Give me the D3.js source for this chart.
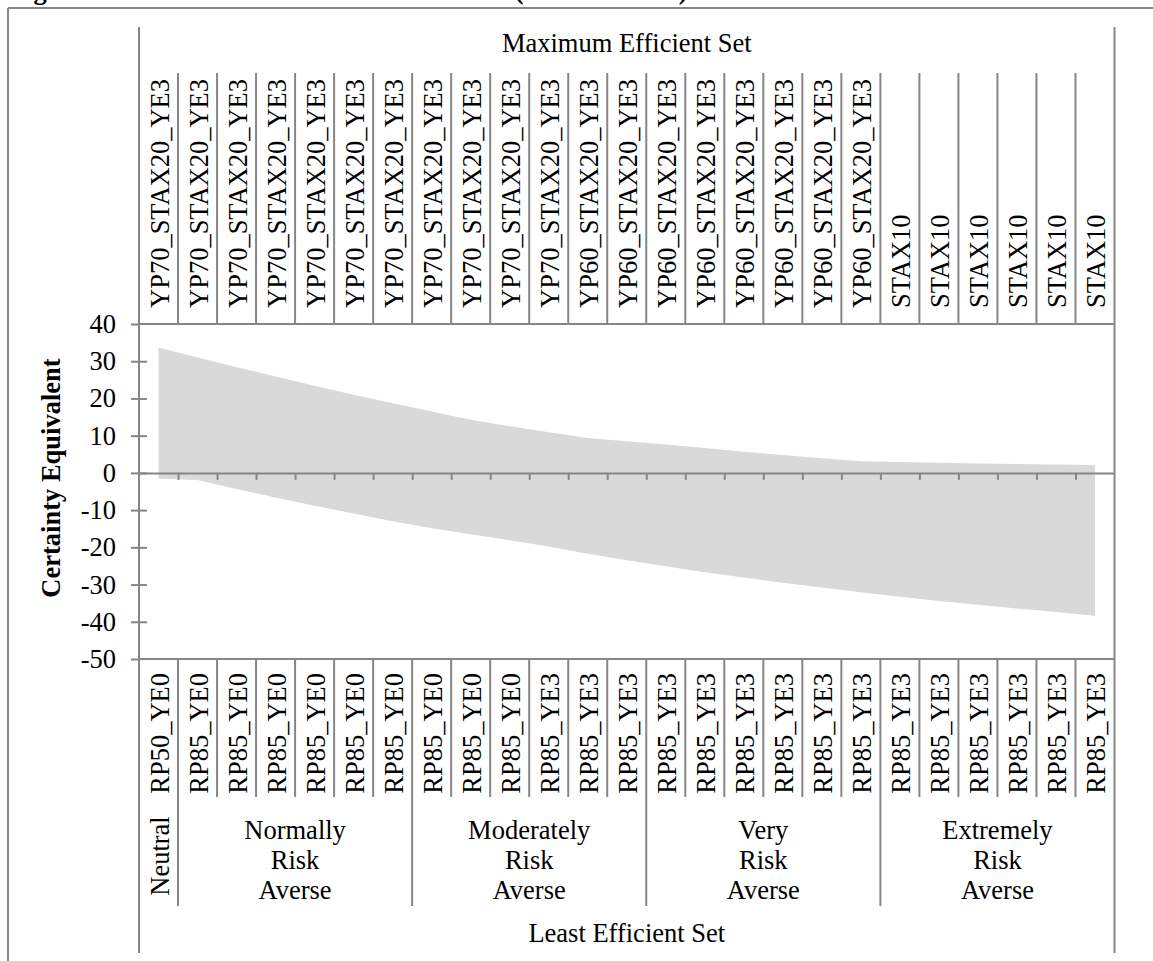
<!DOCTYPE html>
<html>
<head>
<meta charset="utf-8">
<script src="https://cdn.jsdelivr.net/npm/d3@7"></script>
<style>
  body { margin: 0; background: #fff; }
  svg { display: block; }
  text { font-family: "Liberation Serif", "Times New Roman", serif; fill: #000; }
</style>
</head>
<body>
<div id="chart"></div>
<script>
/*
  Certainty equivalent range, maximum vs least efficient set
*/

var figTitle = "Figure 5. CE of Models in MC Environment (500 Scenarios)",
    topTitle = "Maximum Efficient Set",
    bottomTitle = "Least Efficient Set",
    yLabel = "Certainty Equivalent";

// top (maximum efficient) category labels
var topLabels = [
  "YP70_STAX20_YE3", "YP70_STAX20_YE3", "YP70_STAX20_YE3", "YP70_STAX20_YE3",
  "YP70_STAX20_YE3", "YP70_STAX20_YE3", "YP70_STAX20_YE3", "YP70_STAX20_YE3",
  "YP70_STAX20_YE3", "YP70_STAX20_YE3", "YP70_STAX20_YE3",
  "YP60_STAX20_YE3", "YP60_STAX20_YE3", "YP60_STAX20_YE3", "YP60_STAX20_YE3",
  "YP60_STAX20_YE3", "YP60_STAX20_YE3", "YP60_STAX20_YE3", "YP60_STAX20_YE3",
  "STAX10", "STAX10", "STAX10", "STAX10", "STAX10", "STAX10"
];

// bottom (least efficient) category labels
var bottomLabels = [
  "RP50_YE0",
  "RP85_YE0", "RP85_YE0", "RP85_YE0", "RP85_YE0", "RP85_YE0", "RP85_YE0",
  "RP85_YE0", "RP85_YE0", "RP85_YE0", "RP85_YE3", "RP85_YE3", "RP85_YE3",
  "RP85_YE3", "RP85_YE3", "RP85_YE3", "RP85_YE3", "RP85_YE3", "RP85_YE3",
  "RP85_YE3", "RP85_YE3", "RP85_YE3", "RP85_YE3", "RP85_YE3", "RP85_YE3"
];

// risk aversion groups
var groupNames = [["Neutral"], ["Normally", "Risk", "Averse"], ["Moderately", "Risk", "Averse"],
                  ["Very", "Risk", "Averse"], ["Extremely", "Risk", "Averse"]];
var groupSizes = [1, 6, 6, 6, 6];

// upper and lower edge of the shaded band
var upperCE = [33.7, 31.0, 28.4, 25.9, 23.4, 21.0, 18.7, 16.5, 14.3, 12.5, 10.9, 9.4, 8.5,
               7.6, 6.7, 5.7, 4.8, 3.9, 3.1, 2.9, 2.7, 2.55, 2.4, 2.25, 2.1];
var lowerCE = [-1.5, -1.9, -4.3, -6.6, -8.8, -10.9, -13.0, -14.9, -16.5, -18.1, -19.8, -21.7, -23.5,
               -25.1, -26.7, -28.1, -29.5, -30.8, -32.1, -33.3, -34.4, -35.4, -36.4, -37.4, -38.4];

var yTicks = [40, 30, 20, 10, 0, -10, -20, -30, -40, -50];

var W = 1153, H = 961,
    plot = {left: 139, right: 1114.5, top: 324, bottom: 659},
    gray = "#868686",
    fs = 26.5,
    n = topLabels.length;

var svg = d3.select("#chart").append("svg")
    .attr("width", W)
    .attr("height", H);

var x = d3.scaleBand().domain(d3.range(n)).range([plot.left, plot.right]),
    xb = d3.scaleLinear().domain([0, n]).range([plot.left, plot.right]),
    y = d3.scaleLinear().domain([-50, 40]).range([plot.bottom, plot.top]);

function cx(i){ return x(i) + x.bandwidth() / 2; }

function vline(xp, y1, y2){
  svg.append("line")
    .attr("x1", xp).attr("x2", xp)
    .attr("y1", y1).attr("y2", y2)
    .attr("stroke", gray).attr("stroke-width", 2);
}
function hline(yp, x1, x2){
  svg.append("line")
    .attr("x1", x1).attr("x2", x2)
    .attr("y1", yp).attr("y2", yp)
    .attr("stroke", gray).attr("stroke-width", 2);
}

// outer frame (cropped at right and bottom)
hline(8, 8, W);
vline(8, 8, H);

// figure title, cut off at the top as in the page it came from
svg.append("text")
  .attr("x", 10).attr("y", -1)
  .style("font-size", fs + "px")
  .style("font-weight", "bold")
  .text(figTitle);

// shaded band
var area = d3.area()
  .x(function(d, i){ return cx(i); })
  .y0(function(d, i){ return y(lowerCE[i]); })
  .y1(function(d, i){ return y(upperCE[i]); });

svg.append("path")
  .datum(upperCE)
  .attr("fill", "#d9d9d9")
  .attr("d", area);

// plot border top / bottom
hline(y(40), plot.left, plot.right);
hline(y(-50), plot.left, plot.right);

// y axis with crossing ticks
var yAxis = svg.append("g")
  .attr("transform", "translate(" + plot.left + ",0)")
  .attr("color", gray)
  .call(d3.axisLeft(y).tickValues(yTicks).tickSize(8).tickPadding(15).tickSizeOuter(0)
        .tickFormat(function(d){ return String(d); }));
yAxis.select(".domain").remove();
yAxis.selectAll(".tick line").attr("x1", 8).attr("stroke-width", 2);
yAxis.selectAll(".tick line").filter(function(d){ return d === 40 || d === -50; }).attr("x1", 0);
yAxis.selectAll("text")
  .attr("fill", "#000")
  .style("font-family", "'Liberation Serif', 'Times New Roman', serif")
  .style("font-size", fs + "px");

// zero line with category boundary ticks
var xAxis = svg.append("g")
  .attr("transform", "translate(0," + y(0) + ")")
  .attr("color", gray)
  .call(d3.axisBottom(xb).tickValues(d3.range(1, n)).tickSize(7).tickSizeOuter(0).tickFormat(""));
xAxis.select(".domain").attr("stroke-width", 2);
xAxis.selectAll(".tick line").attr("stroke-width", 2);

// outer vertical lines
vline(plot.left, 27, 953);
vline(plot.right, 27, 953);

// category dividers, top and bottom
d3.range(1, n).forEach(function(k){
  vline(xb(k), 73, plot.top);
  vline(xb(k), plot.bottom, 797);
});

// group dividers
var cum = 0;
groupSizes.slice(0, -1).forEach(function(s){
  cum += s;
  vline(xb(cum), 797, 906);
});

// top labels
svg.selectAll(".topLabel")
  .data(topLabels)
  .enter().append("text")
    .attr("class", "topLabel")
    .attr("transform", function(d, i){ return "translate(" + (cx(i) + 10) + ",308) rotate(-90)"; })
    .style("font-size", fs + "px")
    .style("text-anchor", "start")
    .text(function(d){ return d; });

// bottom labels
svg.selectAll(".bottomLabel")
  .data(bottomLabels)
  .enter().append("text")
    .attr("class", "bottomLabel")
    .attr("transform", function(d, i){ return "translate(" + (cx(i) + 10) + ",673) rotate(-90)"; })
    .style("font-size", fs + "px")
    .style("text-anchor", "end")
    .text(function(d){ return d; });

// group labels
var start = 0;
groupNames.forEach(function(lines, g){
  var mid = xb(start + groupSizes[g] / 2);
  if (groupSizes[g] === 1) {
    svg.append("text")
      .attr("transform", "translate(" + (mid + 10) + ",856) rotate(-90)")
      .style("font-size", fs + "px")
      .style("text-anchor", "middle")
      .text(lines[0]);
  } else {
    lines.forEach(function(t, j){
      svg.append("text")
        .attr("x", mid)
        .attr("y", 839 + j * 30)
        .style("font-size", fs + "px")
        .style("text-anchor", "middle")
        .text(t);
    });
  }
  start += groupSizes[g];
});

// outer level titles
svg.append("text")
  .attr("x", (plot.left + plot.right) / 2)
  .attr("y", 52)
  .style("font-size", fs + "px")
  .style("text-anchor", "middle")
  .text(topTitle);

svg.append("text")
  .attr("x", (plot.left + plot.right) / 2)
  .attr("y", 942)
  .style("font-size", fs + "px")
  .style("text-anchor", "middle")
  .text(bottomTitle);

//Label for Y axis
svg.append("text")
  .attr("transform", "translate(60,478) rotate(-90)")
  .style("text-anchor", "middle")
  .style("font-size", fs + "px")
  .style("font-weight", "bold")
  .text(yLabel);
</script>
</body>
</html>
